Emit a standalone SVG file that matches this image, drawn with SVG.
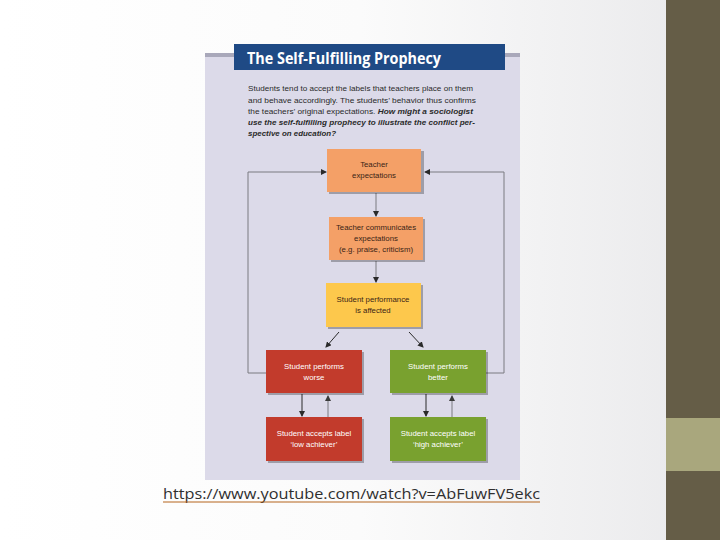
<svg xmlns="http://www.w3.org/2000/svg" width="720" height="540" viewBox="0 0 720 540">
<defs>
<linearGradient id="bg" x1="0" y1="0" x2="1" y2="0">
<stop offset="0" stop-color="#ffffff"/>
<stop offset="0.5" stop-color="#fbfbfb"/>
<stop offset="1" stop-color="#e9e9eb"/>
</linearGradient>
<marker id="ah" markerWidth="6" markerHeight="6" refX="5" refY="3" orient="auto" markerUnits="userSpaceOnUse">
<path d="M0,0 L6,3 L0,6 Z" fill="#2a2a2a"/>
</marker>
<marker id="ahg" markerWidth="6" markerHeight="6" refX="5" refY="3" orient="auto" markerUnits="userSpaceOnUse">
<path d="M0,0 L6,3 L0,6 Z" fill="#3a3a3a"/>
</marker>
</defs>
<style>
.body{font-family:"Liberation Sans",Arial,sans-serif;font-size:7.6px;fill:#2a2a2a}
.bi{font-weight:bold;font-style:italic}
.lbl{font-family:"Liberation Sans",Arial,sans-serif;font-size:7.8px;text-anchor:middle}
.dark{fill:#3a2416}
.light{fill:#ffffff}
.shadow{fill:#000000;opacity:0.28}
.orange{fill:#f4a067}
.yellow{fill:#fdc84c}
.red{fill:#c23b2c}
.green{fill:#79a12f}
.ln{stroke:#2a2a2a;stroke-width:1;fill:none}
.lg{stroke:#7a7a80;stroke-width:1;fill:none}
</style>
<rect x="0" y="0" width="720" height="540" fill="url(#bg)"/>
<rect x="666" y="0" width="54" height="418" fill="#655d47"/>
<rect x="666" y="418" width="54" height="53" fill="#a9a77d"/>
<rect x="666" y="471" width="54" height="69" fill="#655d47"/>

<rect x="205" y="56" width="315" height="424" fill="#dcdae9"/>
<rect x="205" y="53" width="315" height="4" fill="#a9a8ba"/>
<rect x="234" y="44" width="271" height="26" fill="#1f4a85"/>
<text x="247" y="64" font-family="'Open Sans','Liberation Sans',sans-serif" font-weight="bold" font-size="15.5" fill="#ffffff" textLength="194" lengthAdjust="spacingAndGlyphs">The Self-Fulfilling Prophecy</text>

<text class="body" x="248" y="91" textLength="225" lengthAdjust="spacingAndGlyphs">Students tend to accept the labels that teachers place on them</text>
<text class="body" x="248" y="103" textLength="228" lengthAdjust="spacingAndGlyphs">and behave accordingly. The students’ behavior thus confirms</text>
<text class="body" x="248" y="114" textLength="225" lengthAdjust="spacingAndGlyphs">the teachers’ original expectations. <tspan class="bi">How might a sociologist</tspan></text>
<text class="body bi" x="248" y="125" textLength="227" lengthAdjust="spacingAndGlyphs">use the self-fulfilling prophecy to illustrate the conflict per-</text>
<text class="body bi" x="248" y="136" textLength="88" lengthAdjust="spacingAndGlyphs">spective on education?</text>

<g id="connectors">
<line class="lg" x1="376" y1="193" x2="376" y2="216" marker-end="url(#ah)"/>
<line class="lg" x1="376" y1="261" x2="376" y2="282" marker-end="url(#ah)"/>
<line class="ln" x1="339" y1="332" x2="326" y2="347" marker-end="url(#ah)"/>
<line class="ln" x1="409" y1="332" x2="423" y2="347" marker-end="url(#ah)"/>
<line class="ln" x1="302" y1="394" x2="302" y2="416" marker-end="url(#ah)"/>
<line class="lg" x1="328" y1="417" x2="328" y2="396" marker-end="url(#ahg)"/>
<line class="ln" x1="426" y1="394" x2="426" y2="416" marker-end="url(#ah)"/>
<line class="lg" x1="452" y1="417" x2="452" y2="396" marker-end="url(#ahg)"/>
<polyline class="lg" points="266,373 248,373 248,172 326,172" marker-end="url(#ah)"/>
<polyline class="lg" points="486,373 504,373 504,172 425,172" marker-end="url(#ah)"/>
</g>

<g id="n-teacher-expectations">
<rect class="shadow" x="329" y="151" width="95" height="43"/>
<rect class="orange" x="327" y="149" width="94" height="43"/>
<text class="lbl dark" x="374" y="167">Teacher</text>
<text class="lbl dark" x="374" y="178">expectations</text>
</g>
<g id="n-teacher-communicates">
<rect class="shadow" x="331" y="219" width="94" height="43"/>
<rect class="orange" x="329" y="217" width="94" height="43"/>
<text class="lbl dark" x="376" y="230">Teacher communicates</text>
<text class="lbl dark" x="376" y="241">expectations</text>
<text class="lbl dark" x="376" y="252">(e.g. praise, criticism)</text>
</g>
<g id="n-student-performance">
<rect class="shadow" x="328" y="285" width="95" height="44"/>
<rect class="yellow" x="326" y="283" width="95" height="44"/>
<text class="lbl dark" x="373" y="302">Student  performance</text>
<text class="lbl dark" x="373" y="313">is affected</text>
</g>
<g id="n-performs-worse">
<rect class="shadow" x="268" y="352" width="96" height="43"/>
<rect class="red" x="266" y="350" width="96" height="43"/>
<text class="lbl light" x="314" y="369">Student  performs</text>
<text class="lbl light" x="314" y="380">worse</text>
</g>
<g id="n-performs-better">
<rect class="shadow" x="392" y="352" width="96" height="43"/>
<rect class="green" x="390" y="350" width="96" height="43"/>
<text class="lbl light" x="438" y="369">Student  performs</text>
<text class="lbl light" x="438" y="380">better</text>
</g>
<g id="n-low-achiever">
<rect class="shadow" x="268" y="419" width="96" height="44"/>
<rect class="red" x="266" y="417" width="96" height="44"/>
<text class="lbl light" x="314" y="436">Student  accepts label</text>
<text class="lbl light" x="314" y="447">‘low achiever’</text>
</g>
<g id="n-high-achiever">
<rect class="shadow" x="392" y="419" width="96" height="44"/>
<rect class="green" x="390" y="417" width="96" height="44"/>
<text class="lbl light" x="438" y="436">Student  accepts label</text>
<text class="lbl light" x="438" y="447">‘high achiever’</text>
</g>

<text x="163" y="499" font-family="'Open Sans','Liberation Sans',sans-serif" font-size="14" fill="#2f2f2f" textLength="377" lengthAdjust="spacingAndGlyphs">https://www.youtube.com/watch?v=AbFuwFV5ekc</text>
<line x1="163" y1="502" x2="540" y2="502" stroke="#b5651d" stroke-width="1"/>
</svg>
